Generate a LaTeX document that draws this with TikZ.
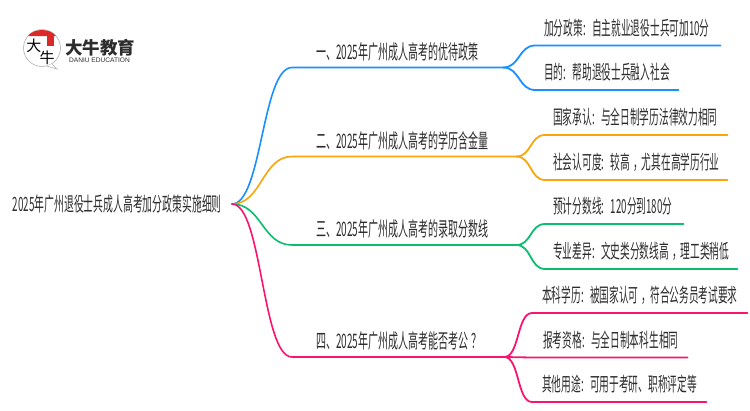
\documentclass[tikz,border=0pt]{standalone}
\usepackage{fontspec}
\setmainfont[FakeStretch=0.5]{Noto Sans CJK SC}
\newfontfamily\logofont{Noto Sans CJK SC}
\newfontfamily\latinfont{Liberation Sans}
\definecolor{mapblue}{RGB}{24, 144, 255}
\definecolor{maporange}{RGB}{250, 166, 10}
\definecolor{mapgreen}{RGB}{10, 190, 110}
\definecolor{mappink}{RGB}{250, 20, 110}
\definecolor{maptext}{RGB}{45, 45, 45}
\definecolor{logored}{RGB}{220, 40, 40}
\newcommand\midmark[1]{\kern3pt#1\kern-1pt}
\tikzset{
  maptitle/.style={text=maptext,font=\fontsize{19.7}{22}\selectfont,inner ysep=0pt,inner xsep=10pt},
  topic/.style 2 args={anchor=south west,inner sep=0pt,text=maptext,font=\fontsize{20}{22}\selectfont,
    align=left,text depth=8pt,text width=#1,execute at begin node={\hspace*{#2}}},
  leaf/.style 2 args={anchor=south west,inner sep=0pt,text=maptext,font=\fontsize{19.4}{22}\selectfont,
    align=left,text depth=10pt,text width=#1,execute at begin node={\hspace*{#2}}},
  branch/.style={line width=1.6pt,line cap=round},
  twig/.style={line width=1.8pt,line cap=round}
}
\begin{document}
\frenchspacing
\begin{tikzpicture}[x=1pt,y=-1pt]
  \useasboundingbox (0,0) rectangle (750,410);

  \draw[gray!60,fill=white,line width=0.6pt] (42,48) circle (18.5pt);
  \draw[gray!60,fill=white,line width=0.6pt] (52,64) -- (57,69) -- (47,66);
  \fill[logored] (28,36) .. controls (34,28) and (50,28) .. (56,36) -- cycle;
  \fill[logored] (47,36) rectangle (54,46);
  \node[text=black,font=\logofont\fontsize{15}{15}\selectfont,inner sep=0pt] (brushda) at (34,46) {大};
  \node[text=black,font=\logofont\fontsize{15}{15}\selectfont,inner sep=0pt] (brushniu) at (47,58) {牛};
  \node[text=maptext,font=\logofont\bfseries\fontsize{17.5}{18}\selectfont,inner sep=0pt] (logoname) at (100,48) {大牛教育};
  \node[text=maptext,font=\latinfont\fontsize{6.6}{8}\selectfont,inner sep=0pt] (logosub) at (99.5,60.5) {DANIU EDUCATION};

  \node[maptitle,anchor=east] (root) at (232,204) {2025年广州退役士兵成人高考加分政策实施细则};

  \node[topic={211pt}{24pt}] (one) at (292,67.5) {一、2025年广州成人高考的优待政策};
  \node[topic={224pt}{24pt}] (two) at (292,156.5) {二、2025年广州成人高考的学历含金量};
  \node[topic={224pt}{24pt}] (three) at (292,245) {三、2025年广州成人高考的录取分数线};
  \node[topic={212pt}{24pt}] (four) at (292,357) {四、2025年广州成人高考能否考公\midmark{？}};

  \node[leaf={185pt}{9pt}] (onea) at (535,45.5) {加分政策: 自主就业退役士兵可加10分};
  \node[leaf={143pt}{9pt}] (oneb) at (535,90) {目的: 帮助退役士兵融入社会};
  \node[leaf={182pt}{8pt}] (twoa) at (545,135) {国家承认: 与全日制学历法律效力相同};
  \node[leaf={182pt}{8pt}] (twob) at (545,180) {社会认可度: 较高\midmark{，}尤其在高学历行业};
  \node[leaf={138pt}{8pt}] (threea) at (545,224) {预计分数线: 120分到180分};
  \node[leaf={192pt}{8pt}] (threeb) at (545,269) {专业差异: 文史类分数线高\midmark{，}理工类稍低};
  \node[leaf={215pt}{10pt}] (foura) at (532,313) {本科学历: 被国家认可\midmark{，}符合公务员考试要求};
  \node[leaf={155pt}{11pt}] (fourb) at (532,357.5) {报考资格: 与全日制本科生相同};
  \node[leaf={174pt}{10pt}] (fourc) at (532,402) {其他用途: 可用于考研、职称评定等};

  \draw[branch,mapblue] (root.east) .. controls +(30,0) and +(-30,0) .. (one.south west) -- (one.south east);
  \draw[branch,maporange] (root.east) .. controls +(30,0) and +(-30,0) .. (two.south west) -- (two.south east);
  \draw[branch,mapgreen] (root.east) .. controls +(30,0) and +(-30,0) .. (three.south west) -- (three.south east);
  \draw[branch,mappink] (root.east) .. controls +(30,0) and +(-30,0) .. (four.south west) -- (four.south east);

  \draw[twig,mapblue] (one.south east) .. controls +(16,0) and +(-16,0) .. (onea.south west) -- (onea.south east);
  \draw[twig,mapblue] (one.south east) .. controls +(16,0) and +(-16,0) .. (oneb.south west) -- (oneb.south east);
  \draw[twig,maporange] (two.south east) .. controls +(15,0) and +(-15,0) .. (twoa.south west) -- (twoa.south east);
  \draw[twig,maporange] (two.south east) .. controls +(15,0) and +(-15,0) .. (twob.south west) -- (twob.south east);
  \draw[twig,mapgreen] (three.south east) .. controls +(15,0) and +(-15,0) .. (threea.south west) -- (threea.south east);
  \draw[twig,mapgreen] (three.south east) .. controls +(15,0) and +(-15,0) .. (threeb.south west) -- (threeb.south east);
  \draw[twig,mappink] (four.south east) .. controls +(15,0) and +(-15,0) .. (foura.south west) -- (foura.south east);
  \draw[twig,mappink] (four.south east) -- (fourb.south west) -- (fourb.south east);
  \draw[twig,mappink] (four.south east) .. controls +(15,0) and +(-15,0) .. (fourc.south west) -- (fourc.south east);
\end{tikzpicture}
\end{document}
